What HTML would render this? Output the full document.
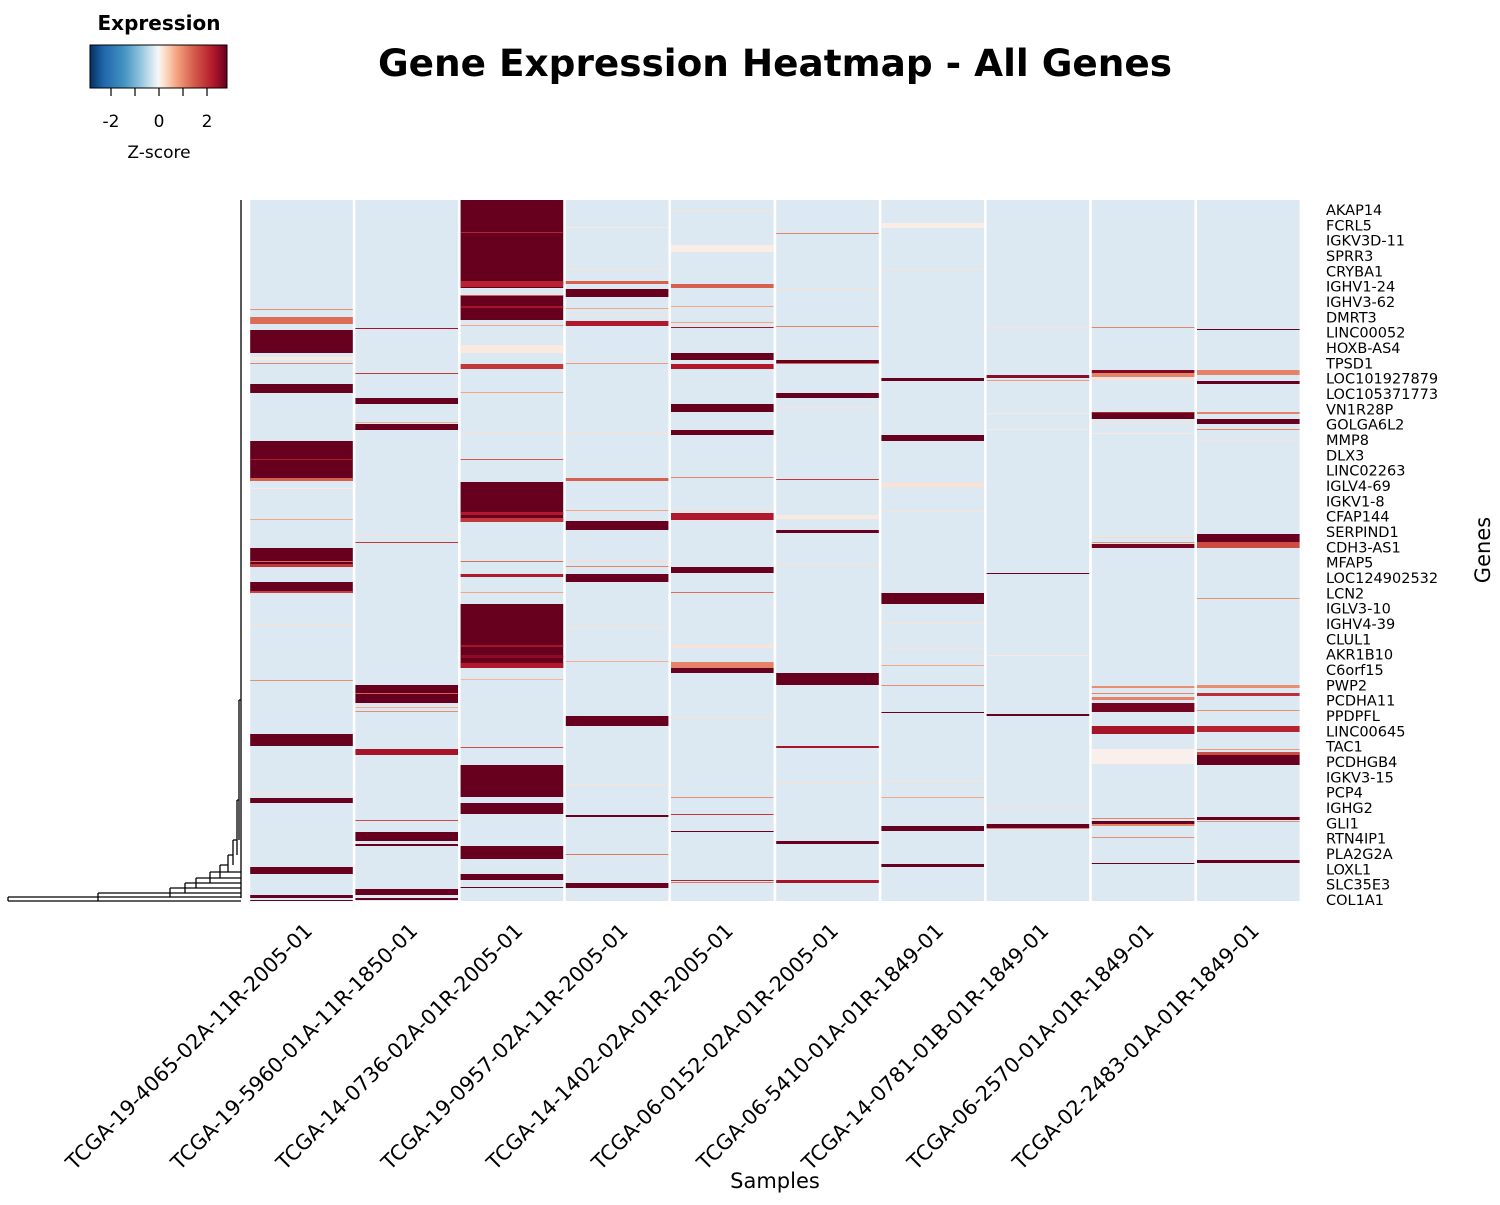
<!DOCTYPE html>
<html><head><meta charset="utf-8"><style>
html,body{margin:0;padding:0;background:#fff;}
svg text{font-family:"DejaVu Sans","Liberation Sans",sans-serif;}
</style></head><body>
<svg id="chart" width="1500" height="1200" viewBox="0 0 1500 1200" xmlns="http://www.w3.org/2000/svg">
<defs>
<linearGradient id="cbar" x1="0" x2="1" y1="0" y2="0">
<stop offset="0" stop-color="#053061"/><stop offset="0.1" stop-color="#2166ac"/><stop offset="0.25" stop-color="#4393c3"/><stop offset="0.37" stop-color="#92c5de"/><stop offset="0.45" stop-color="#d1e5f0"/><stop offset="0.5" stop-color="#f7f7f7"/><stop offset="0.55" stop-color="#fddbc7"/><stop offset="0.63" stop-color="#f4a582"/><stop offset="0.75" stop-color="#d6604d"/><stop offset="0.9" stop-color="#b2182b"/><stop offset="1" stop-color="#67001f"/>
</linearGradient>
</defs>
<text x="775" y="76" text-anchor="middle" font-size="37.4" font-weight="bold">Gene Expression Heatmap - All Genes</text>
<g id="legend">
<text x="159" y="30" text-anchor="middle" font-size="20" font-weight="bold">Expression</text>
<rect x="90" y="45" width="137" height="43" fill="url(#cbar)" stroke="#000" stroke-width="1"/>
<text x="159" y="158" text-anchor="middle" font-size="17">Z-score</text>
</g>
<g id="dendro" stroke="#000" stroke-width="1.3" fill="none">
<path d="M241,200 V898"/>
<path d="M8,897 H98 M8,901 H241 M8,897 V901 M98,893 V901 M98,893 H170 M170,888 V897 M170,888 H185 M185,883 V893 M185,883 H196 M196,878 V888 M196,878 H210 M210,872 V883 M210,872 H220 M220,865 V878 M220,865 H228 M228,855 V872 M228,855 H233 M233,840 V865 M233,840 H237 M237,800 V855 M237,800 H239 M239,700 V840 M239,700 H241 M98,897 H241 M170,893 H241 M185,888 H241 M196,883 H241 M210,878 H241 M220,872 H241"/>
</g>
<g id="cells"></g>
<g id="xlabels"></g>
<g id="ylabels"></g>
<text x="775" y="1188" text-anchor="middle" font-size="21">Samples</text>
<text transform="translate(1490,550) rotate(-90)" text-anchor="middle" font-size="21">Genes</text>
</svg>
<script>
const samples = ["TCGA-19-4065-02A-11R-2005-01","TCGA-19-5960-01A-11R-1850-01","TCGA-14-0736-02A-01R-2005-01","TCGA-19-0957-02A-11R-2005-01","TCGA-14-1402-02A-01R-2005-01","TCGA-06-0152-02A-01R-2005-01","TCGA-06-5410-01A-01R-1849-01","TCGA-14-0781-01B-01R-1849-01","TCGA-06-2570-01A-01R-1849-01","TCGA-02-2483-01A-01R-1849-01"];
const geneLabels = ["AKAP14","FCRL5","IGKV3D-11","SPRR3","CRYBA1","IGHV1-24","IGHV3-62","DMRT3","LINC00052","HOXB-AS4","TPSD1","LOC101927879","LOC105371773","VN1R28P","GOLGA6L2","MMP8","DLX3","LINC02263","IGLV4-69","IGKV1-8","CFAP144","SERPIND1","CDH3-AS1","MFAP5","LOC124902532","LCN2","IGLV3-10","IGHV4-39","CLUL1","AKR1B10","C6orf15","PWP2","PCDHA11","PPDPFL","LINC00645","TAC1","PCDHGB4","IGKV3-15","PCP4","IGHG2","GLI1","RTN4IP1","PLA2G2A","LOXL1","SLC35E3","COL1A1"];
const nRows = 701;
const baseZ = -0.3;
const colorTicks = [-2,-1,0,1,2];
// blocks of z-scores per sample: [startRow, endRow, z]
const s0 = [[109,110,1.2],[117,124,1.5],[130,153,3],[157,160,0.2],[163,164,1.3],[184,193,3],[241,281,3],[259,260,2.3],[278,281,1.6],[288,289,0.2],[319,320,1.0],[348,367,3],[361,362,1.5],[364,367,2.0],[382,393,3],[391,393,1.9],[425,426,0.3],[480,481,1.2],[534,546,3],[593,594,0.3],[598,603,3],[667,674,3],[695,698,3],[700,701,3]];
const s1 = [[128,129,2.4],[173,174,2.0],[198,204,3],[222,223,0.9],[224,230,3],[334,335,0.3],[342,343,2.0],[485,503,3],[493,494,1.6],[507,508,0.9],[511,512,1.2],[549,555,2.4],[620,621,1.8],[632,641,3],[644,646,3],[689,695,3],[698,700,3]];
const s2 = [[0,88,3],[32,33,2.2],[81,87,2.2],[95,120,3],[95,96,1.6],[106,108,2.4],[125,126,1.0],[145,153,0.2],[164,169,2.0],[192,193,1.0],[233,234,0.3],[259,260,1.7],[282,322,3],[312,315,2.3],[318,322,2.0],[361,362,1.5],[374,377,2.3],[392,393,1.0],[404,468,3],[445,447,2.4],[455,458,2.6],[463,468,2.3],[479,480,0.8],[547,548,1.8],[565,597,3],[603,614,3],[646,659,3],[674,680,3],[687,688,3]];
const s3 = [[27,28,0.2],[69,70,0.3],[81,84,1.6],[89,97,3],[108,109,1.0],[115,116,0.3],[121,126,2.3],[163,164,1.1],[233,234,0.3],[278,281,1.6],[310,311,1.0],[321,330,3],[361,362,0.4],[366,367,1.3],[374,382,3],[427,428,0.3],[461,462,0.9],[516,526,3],[584,585,0.3],[615,617,3],[654,655,1.4],[683,688,3]];
const s4 = [[10,11,0.3],[45,52,0.15],[84,88,1.6],[106,107,1.0],[122,123,1.0],[127,128,2.4],[153,160,3],[164,169,2.3],[204,212,3],[230,235,3],[277,278,1.3],[308,309,0.3],[313,320,2.3],[367,373,3],[392,393,1.5],[445,448,0.3],[462,468,1.3],[468,473,3],[517,518,0.3],[597,598,1.2],[614,615,2.0],[631,632,3],[680,681,2.2],[682,683,1.4]];
const s5 = [[33,34,1.3],[89,90,0.3],[126,127,1.3],[160,163,3],[163,164,1.6],[193,198,3],[207,208,0.3],[279,280,2.0],[315,319,0.2],[330,333,3],[364,365,0.3],[473,485,3],[546,548,2.4],[582,583,0.3],[641,644,3],[680,683,2.4]];
const s6 = [[23,28,0.15],[69,70,0.3],[178,181,3],[235,241,3],[283,287,0.3],[311,312,0.3],[393,404,3],[423,424,0.3],[448,449,0.3],[465,466,1.0],[485,486,1.2],[512,513,3],[581,582,0.3],[597,598,1.0],[626,631,3],[664,667,3]];
const s7 = [[127,128,0.3],[175,178,2.6],[180,181,1.1],[213,214,0.2],[229,230,0.2],[373,374,3],[455,456,0.2],[514,516,3],[609,610,0.3],[624,628,3],[628,629,1.3]];
const s8 = [[127,128,1.3],[170,173,2.7],[173,177,1.3],[178,180,0.3],[212,219,3],[212,213,2.2],[223,224,0.3],[233,234,0.2],[337,338,0.4],[342,343,1.2],[344,348,2.8],[486,488,1.2],[493,494,1.3],[497,500,1.3],[503,512,2.8],[526,534,2.4],[549,564,0.1],[618,619,1.3],[621,624,3],[624,626,1.3],[637,638,1.2],[663,664,3]];
const s9 = [[129,130,3],[170,175,1.3],[181,184,3],[212,214,1.3],[219,224,3],[229,230,1.3],[240,241,0.3],[334,342,3],[342,348,1.8],[398,399,1.2],[485,488,1.2],[493,496,2.1],[510,511,1.2],[526,532,2.2],[549,550,1.1],[552,565,3],[552,555,1.8],[617,620,3],[621,622,1.2],[660,663,3]];
const sampleBlocks = [s0,s1,s2,s3,s4,s5,s6,s7,s8,s9];

const SVGNS = "http://www.w3.org/2000/svg";
const X0 = 249, X1 = 1301, Y0 = 200, Y1 = 901;
const colW = (X1 - X0) / samples.length;
function xCol(i){ return X0 + i * colW; }
function yRow(r){ return Y0 + r * (Y1 - Y0) / nRows; }
const stops = [[-3,[5,48,97]],[-2.4,[33,102,172]],[-1.5,[67,147,195]],[-0.8,[146,197,222]],[-0.3,[221,233,242]],[0,[247,247,247]],[0.4,[253,219,199]],[1.0,[244,165,130]],[1.6,[214,96,77]],[2.3,[178,24,43]],[2.9,[103,0,31]]];
function color(z){
  if (z <= stops[0][0]) return "rgb("+stops[0][1].join(",")+")";
  for (let k=1;k<stops.length;k++){
    if (z <= stops[k][0]){
      const a=stops[k-1], b=stops[k], t=(z-a[0])/(b[0]-a[0]);
      const c=a[1].map((v,j)=>Math.round(v+(b[1][j]-v)*t));
      return "rgb("+c.join(",")+")";
    }
  }
  return "rgb("+stops[stops.length-1][1].join(",")+")";
}
const cells = document.getElementById("cells");
sampleBlocks.forEach((blocks, i) => {
  const x = xCol(i) + 1.2, w = colW - 2.6;
  const bg = document.createElementNS(SVGNS, "rect");
  
  
  bg.setAttribute("x", x); bg.setAttribute("y", yRow(0));
  bg.setAttribute("width", w); bg.setAttribute("height", yRow(nRows) - yRow(0));
  bg.setAttribute("fill", color(baseZ));
  cells.appendChild(bg);
  blocks.forEach(b => {
    const r = document.createElementNS(SVGNS, "rect");
    
    
    r.setAttribute("x", x); r.setAttribute("y", yRow(b[0]));
    r.setAttribute("width", w); r.setAttribute("height", Math.max(1, yRow(b[1]) - yRow(b[0])));
    r.setAttribute("fill", color(b[2]));
    cells.appendChild(r);
  });
});
const xl = document.getElementById("xlabels");
samples.forEach((s, i) => {
  const cx = xCol(i) + colW / 2 + 12, cy = 932;
  const t = document.createElementNS(SVGNS, "text");
  
  
  t.setAttribute("transform", "translate(" + cx + "," + cy + ") rotate(-45)");
  t.setAttribute("text-anchor", "end");
  t.setAttribute("font-size", "20.7");
  t.textContent = s;
  xl.appendChild(t);
});
const yl = document.getElementById("ylabels");
geneLabels.forEach((g, i) => {
  const y = 210 + i * (690 / (geneLabels.length - 1));
  const t = document.createElementNS(SVGNS, "text");
  
  
  t.setAttribute("x", 1326); t.setAttribute("y", y + 5);
  t.setAttribute("font-size", "14.5");
  t.textContent = g;
  yl.appendChild(t);
});
const lg = document.getElementById("legend");
colorTicks.forEach(v => {
  const x = 159 + v * 24;
  const l = document.createElementNS(SVGNS, "line");
  
  
  l.setAttribute("x1", x); l.setAttribute("x2", x); l.setAttribute("y1", 88); l.setAttribute("y2", 96);
  l.setAttribute("stroke", "#000"); l.setAttribute("stroke-width", "1.2");
  lg.appendChild(l);
  if (v % 2 === 0) {
    const t = document.createElementNS(SVGNS, "text");
    
    
    t.setAttribute("x", x); t.setAttribute("y", 127);
    t.setAttribute("text-anchor", "middle"); t.setAttribute("font-size", "17");
    t.textContent = v;
    lg.appendChild(t);
  }
});
</script>
</body></html>
